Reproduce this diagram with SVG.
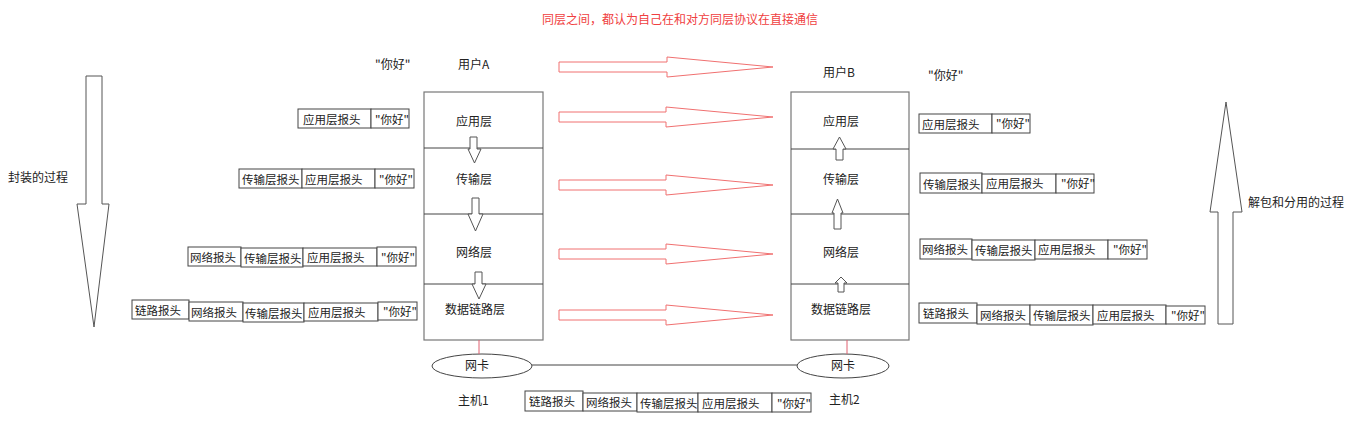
<svg xmlns="http://www.w3.org/2000/svg" width="1369" height="433" viewBox="0 0 1369 433">
<style>
text{font-family:"Microsoft YaHei","Noto Sans CJK SC","Noto Sans",sans-serif;font-size:12px;fill:#222}
.h text{font-size:11.5px}
.c{text-anchor:middle}
.red{fill:#f04040}
.box{fill:#fff;stroke:#444;stroke-width:1}
.host{fill:#fff;stroke:#777;stroke-width:1.2}
.div{stroke:#444;stroke-width:1}
.rarrow{fill:#fff;stroke:#f07070;stroke-width:1}
.garrow{fill:#fff;stroke:#555;stroke-width:1}
.line{stroke:#444;stroke-width:1}
.redline{stroke:#e06070;stroke-width:1}
</style>
<rect width="1369" height="433" fill="#fff"/>

<text id="title" class="red" x="542" y="24">同层之间，都认为自己在和对方同层协议在直接通信</text>

<g id="process-left">
<polygon class="garrow" points="86,76 102,76 102,204 109,204 94,327 77,204 86,204"/>
<text x="8" y="182">封装的过程</text>
</g>
<g id="process-right">
<polygon class="garrow" points="1226,102 1242,212 1233,212 1233,324 1218,324 1218,212 1210,212"/>
<text x="1248" y="207">解包和分用的过程</text>
</g>

<g id="hostA">
<rect class="host" x="424" y="92" width="119" height="248"/>
<line class="div" x1="424" y1="148" x2="543" y2="148"/>
<line class="div" x1="424" y1="214" x2="543" y2="214"/>
<line class="div" x1="424" y1="284" x2="543" y2="284"/>
<text class="c" x="474" y="126">应用层</text>
<text class="c" x="474" y="184">传输层</text>
<text class="c" x="474" y="257">网络层</text>
<text class="c" x="475" y="314">数据链路层</text>
<text x="458" y="69">用户A</text>
<text x="375" y="69">"你好"</text>
<text x="458" y="405">主机1</text>
</g>

<g id="hostB">
<rect class="host" x="791" y="92" width="118" height="248"/>
<line class="div" x1="791" y1="149" x2="909" y2="149"/>
<line class="div" x1="791" y1="214" x2="909" y2="214"/>
<line class="div" x1="791" y1="284" x2="909" y2="284"/>
<text class="c" x="841" y="126">应用层</text>
<text class="c" x="841" y="184">传输层</text>
<text class="c" x="841" y="257">网络层</text>
<text class="c" x="841" y="314">数据链路层</text>
<text x="823" y="77">用户B</text>
<text x="928" y="80">"你好"</text>
<text x="829" y="404">主机2</text>
</g>

<g id="nicA">
<ellipse cx="482" cy="366" rx="50" ry="12" fill="#fff" stroke="#444"/>
<text class="c" x="477" y="370">网卡</text>
</g>
<g id="nicB">
<ellipse cx="843" cy="366" rx="46" ry="12" fill="#fff" stroke="#444"/>
<text class="c" x="843" y="370">网卡</text>
</g>

<g id="connectors">
<polygon class="rarrow" points="559,62 667,62 667,57 773,67 667,77 667,72 559,72"/>
<polygon class="rarrow" points="559,112 666,112 666,107 773,117 666,127 666,122 559,122"/>
<polygon class="rarrow" points="559,180 666,180 666,175 773,185 666,195 666,190 559,190"/>
<polygon class="rarrow" points="559,249 666,249 666,244 773,254 666,264 666,259 559,259"/>
<polygon class="rarrow" points="559,310 666,310 666,305 773,315 666,325 666,320 559,320"/>
<polygon class="garrow" points="470,137 477,137 477,149 481,149 474.5,163 468,149 470,149"/>
<polygon class="garrow" points="472,198 479,198 479,214 483,214 475.5,231 468,214 472,214"/>
<polygon class="garrow" points="475,272 482,272 482,284 486,284 479,299 472,284 475,284"/>
<polygon class="garrow" points="839.5,137 846,149 843,149 843,160 836,160 836,149 833,149"/>
<polygon class="garrow" points="837.5,199 843,213 841,213 841,229 834,229 834,213 832,213"/>
<polygon class="garrow" points="841,277 847,283 844,283 844,292 838,292 838,283 835,283"/>
<line class="redline" x1="479" y1="340" x2="479" y2="354"/>
<line class="redline" x1="847" y1="340" x2="847" y2="354"/>
<line class="line" x1="532" y1="365" x2="797" y2="365"/>
</g>

<g id="hdrL1" class="h">
<rect class="box" x="298" y="109" width="73" height="19"/><text x="303" y="123.5">应用层报头</text>
<rect class="box" x="371" y="109" width="38" height="19"/><text x="375" y="123.5">"你好"</text>
</g>
<g id="hdrL2" class="h">
<rect class="box" x="239" y="169" width="63" height="19"/><text x="242" y="183.5">传输层报头</text>
<rect class="box" x="302" y="169" width="73" height="19"/><text x="305" y="183.5">应用层报头</text>
<rect class="box" x="375" y="169" width="39" height="19"/><text x="379" y="183.5">"你好"</text>
</g>
<g id="hdrL3" class="h">
<rect class="box" x="188" y="247" width="53" height="19"/><text x="190" y="261.5">网络报头</text>
<rect class="box" x="241" y="248" width="62" height="19"/><text x="244" y="262.5">传输层报头</text>
<rect class="box" x="303" y="248" width="74" height="18"/><text x="307" y="262">应用层报头</text>
<rect class="box" x="377" y="247" width="39" height="19"/><text x="381" y="261.5">"你好"</text>
</g>
<g id="hdrL4" class="h">
<rect class="box" x="132" y="300" width="57" height="19"/><text x="135" y="314.5">链路报头</text>
<rect class="box" x="189" y="302" width="54" height="19"/><text x="191" y="316.5">网络报头</text>
<rect class="box" x="243" y="303" width="61" height="19"/><text x="245" y="317.5">传输层报头</text>
<rect class="box" x="304" y="303" width="74" height="18"/><text x="308" y="317">应用层报头</text>
<rect class="box" x="378" y="302" width="39" height="18"/><text x="383" y="316">"你好"</text>
</g>

<g id="hdrR1" class="h">
<rect class="box" x="919" y="114" width="73" height="19"/><text x="922" y="128.5">应用层报头</text>
<rect class="box" x="992" y="114" width="38" height="19"/><text x="996" y="128">"你好"</text>
</g>
<g id="hdrR2" class="h">
<rect class="box" x="920" y="173" width="62" height="20"/><text x="923" y="188.5">传输层报头</text>
<rect class="box" x="982" y="174" width="74" height="19"/><text x="986" y="188">应用层报头</text>
<rect class="box" x="1056" y="174" width="38" height="19"/><text x="1061" y="188">"你好"</text>
</g>
<g id="hdrR3" class="h">
<rect class="box" x="920" y="239" width="52" height="20"/><text x="922" y="253.5">网络报头</text>
<rect class="box" x="972" y="240" width="63" height="20"/><text x="975" y="254.5">传输层报头</text>
<rect class="box" x="1035" y="240" width="73" height="19"/><text x="1038" y="254">应用层报头</text>
<rect class="box" x="1108" y="240" width="39" height="19"/><text x="1113" y="253.5">"你好"</text>
</g>
<g id="hdrR4" class="h">
<rect class="box" x="919" y="303" width="58" height="20"/><text x="923" y="317.5">链路报头</text>
<rect class="box" x="977" y="305" width="53" height="19"/><text x="980" y="319.5">网络报头</text>
<rect class="box" x="1030" y="305" width="63" height="20"/><text x="1033" y="320">传输层报头</text>
<rect class="box" x="1093" y="305" width="73" height="19"/><text x="1097" y="319.5">应用层报头</text>
<rect class="box" x="1166" y="306" width="39" height="18"/><text x="1171" y="319.5">"你好"</text>
</g>

<g id="hdrBottom" class="h">
<rect class="box" x="525" y="391" width="58" height="20"/><text x="529" y="406">链路报头</text>
<rect class="box" x="583" y="393" width="54" height="18"/><text x="586" y="407">网络报头</text>
<rect class="box" x="637" y="393" width="61" height="19"/><text x="640" y="407.5">传输层报头</text>
<rect class="box" x="698" y="393" width="74" height="19"/><text x="702" y="407.5">应用层报头</text>
<rect class="box" x="772" y="393" width="39" height="19"/><text x="777" y="407.5">"你好"</text>
</g>
</svg>
